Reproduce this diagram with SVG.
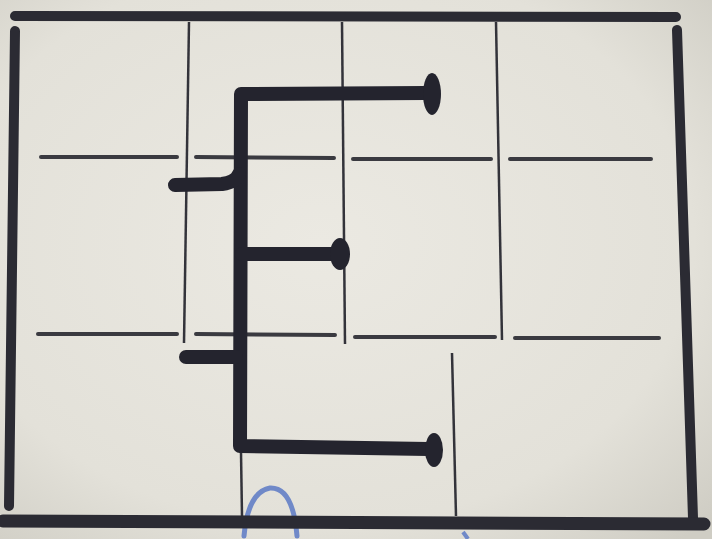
<svg xmlns="http://www.w3.org/2000/svg" width="712" height="539" viewBox="0 0 712 539">
<defs>
<radialGradient id="paper" cx="45%" cy="45%" r="75%">
<stop offset="0" stop-color="#ebe9e2"/>
<stop offset="0.7" stop-color="#e3e1d9"/>
<stop offset="1" stop-color="#cfcdc4"/>
</radialGradient>
<style>
.border{stroke:#2b2b33;stroke-width:10;stroke-linecap:round;fill:none}
.thin{stroke:#33333a;stroke-width:2.5;fill:none}
.dash{stroke:#3a3a40;stroke-width:4;stroke-linecap:round;fill:none}
.ink{stroke:#24242e;stroke-width:14;stroke-linecap:round;stroke-linejoin:round;fill:none}
.cap{fill:#24242e}
.blue{stroke:#7089c8;stroke-width:5;fill:none;stroke-linecap:round}
</style>
</defs>
<rect width="712" height="539" fill="url(#paper)"/>
<g id="pencil">
<path class="blue" d="M244 536 Q248 492 270 488 Q293 487 297 536"/>
<path d="M463 532 L468 539" stroke="#7089c8" stroke-width="4" fill="none"/>
</g>
<g id="grid">
<line class="thin" x1="189" y1="22" x2="184" y2="343"/>
<line class="thin" x1="342" y1="22" x2="345" y2="344"/>
<line class="thin" x1="496" y1="22" x2="502" y2="340"/>
<line class="thin" x1="452" y1="353" x2="456" y2="516"/>
<line class="thin" x1="241" y1="452" x2="242" y2="516"/>
<line class="dash" x1="41" y1="157" x2="177" y2="157"/>
<line class="dash" x1="196" y1="157" x2="334" y2="158"/>
<line class="dash" x1="353" y1="159" x2="491" y2="159"/>
<line class="dash" x1="510" y1="159" x2="651" y2="159"/>
<line class="dash" x1="38" y1="334" x2="177" y2="334"/>
<line class="dash" x1="196" y1="334" x2="335" y2="335"/>
<line class="dash" x1="355" y1="337" x2="495" y2="337"/>
<line class="dash" x1="515" y1="338" x2="659" y2="338"/>
</g>
<g id="walls">
<line class="border" x1="15" y1="16" x2="676" y2="17"/>
<line class="border" x1="15" y1="31" x2="9" y2="506"/>
<line class="border" x1="677" y1="30" x2="693" y2="518"/>
<line x1="3" y1="521" x2="704" y2="524" stroke="#2b2b33" stroke-width="13" stroke-linecap="round"/>
</g>
<g id="shape">
<path class="ink" d="M426 93 L241 94 L240 446 L428 449"/>
<path class="ink" d="M242 254 L336 254"/>
<path class="ink" stroke-width="16" d="M175 185 L222 184 Q236 182 239 174"/>
<path class="ink" stroke-width="16" d="M186 357 L236 357"/>
<ellipse class="cap" cx="432" cy="94" rx="9" ry="21"/>
<ellipse class="cap" cx="340" cy="254" rx="10" ry="16"/>
<ellipse class="cap" cx="434" cy="450" rx="9" ry="17"/>
</g>
</svg>
